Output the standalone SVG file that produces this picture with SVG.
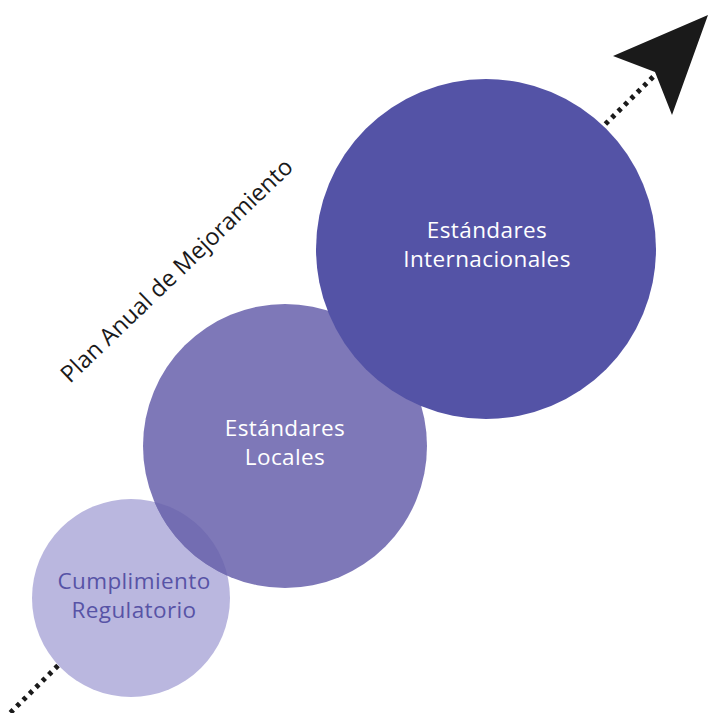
<svg xmlns="http://www.w3.org/2000/svg" width="709" height="713" viewBox="0 0 709 713">
<defs>
<clipPath id="clipSmall"><circle cx="131" cy="598" r="99"/></clipPath>
</defs>
<style>
.lbl{font-family:"Open Sans","Noto Sans",sans-serif;font-size:22.5px;letter-spacing:0.4px;text-anchor:middle}
.w{fill:#ffffff}
.p{fill:#5753a6}
</style>
<rect width="709" height="713" fill="#ffffff"/>
<g id="connectors">
<line x1="4" y1="719" x2="658" y2="72" stroke="#1a1a1a" stroke-width="5" stroke-dasharray="4 5"/>
<polygon points="708,15 613,56 655,72 672,115" fill="#1a1a1a"/>
</g>
<g id="node-cumplimiento">
<circle cx="131" cy="598" r="99" fill="#bab7df"/>
<text class="lbl p" x="134" y="589">Cumplimiento</text>
<text class="lbl p" x="134" y="618">Regulatorio</text>
</g>
<g id="node-locales">
<circle cx="285" cy="446" r="142" fill="#7e78b8"/>
<circle cx="285" cy="446" r="142" fill="#736db2" clip-path="url(#clipSmall)"/>
<text class="lbl w" x="285" y="436">Estándares</text>
<text class="lbl w" x="285" y="465">Locales</text>
</g>
<g id="node-internacionales">
<circle cx="486" cy="249" r="170" fill="#5453a6"/>
<text class="lbl w" x="487" y="238">Estándares</text>
<text class="lbl w" x="487" y="267">Internacionales</text>
</g>
<text x="0" y="0" transform="translate(70,384) rotate(-43.8)" style="font-family:'Open Sans','Noto Sans',sans-serif;font-size:23.5px;fill:#1a1a1a">Plan Anual de Mejoramiento</text>
</svg>
